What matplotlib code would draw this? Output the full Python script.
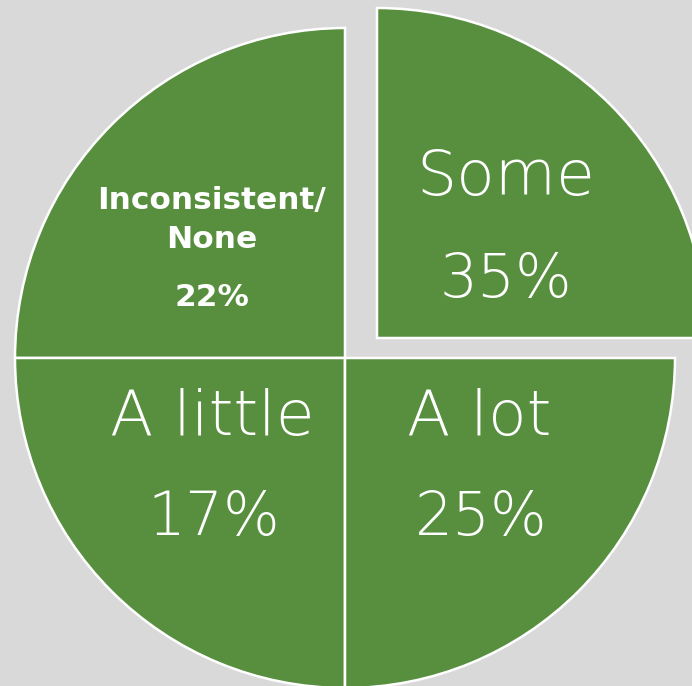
import matplotlib
matplotlib.use("Agg")
import matplotlib.pyplot as plt

# Data
categories = ["Some", "Inconsistent/\nNone", "A little", "A lot"]
percentages = [35, 22, 17, 25]
# the reference draws every slice as an equal quarter
slice_sizes = [25, 25, 25, 25]

W, H = 692, 686
fig = plt.figure(figsize=(W / 100, H / 100), dpi=100)
bg = "#d9d9d9"
fig.patch.set_facecolor(bg)
ax = fig.add_axes([0, 0, 1, 1])
ax.set_facecolor(bg)

green = "#578f3f"
cx, cy, r = 345, H - 358, 330
wedges, _ = ax.pie(slice_sizes, startangle=0, counterclock=True, center=(cx, cy),
                   radius=r, colors=[green] * 4,
                   wedgeprops=dict(edgecolor="white", linewidth=1.8))
# exploded "Some" slice
wedges[0].set_center((cx + 32, cy + 20))

ax.set_xlim(0, W)
ax.set_ylim(0, H)
ax.set_aspect("equal")
ax.axis("off")

light = dict(color="white", ha="center", va="center", family=["DejaVu Sans"],
             fontweight=200, fontsize=45.5)
pct = dict(light, fontsize=43)
ax.text(506, H - 178, categories[0], **light)
ax.text(506, H - 280, f"{percentages[0]}%", **pct)
ax.text(212, H - 418, categories[2], **light)
ax.text(214, H - 518, f"{percentages[2]}%", **pct)
ax.text(479, H - 418, categories[3], **light)
ax.text(481, H - 518, f"{percentages[3]}%", **pct)

bold = dict(color="white", ha="center", va="center", family=["DejaVu Sans"],
            fontweight="bold", fontsize=22.5)
ax.text(212, H - 220, categories[1], linespacing=1.45, **bold)
ax.text(212, H - 298, f"{percentages[1]}%", **bold)

fig.savefig("out.png", dpi=100, facecolor=bg)
